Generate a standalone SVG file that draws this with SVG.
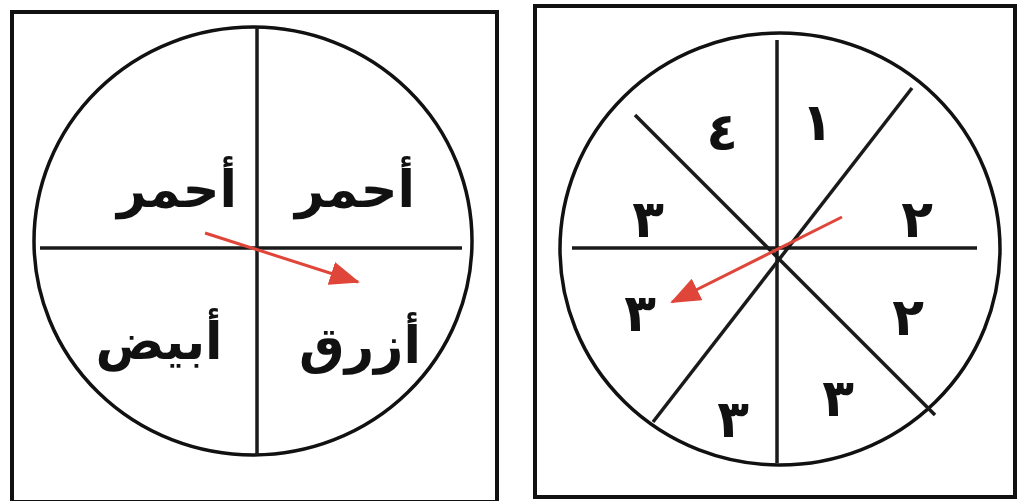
<svg xmlns="http://www.w3.org/2000/svg" width="1017" height="501" viewBox="0 0 1017 501">
<style>
.box{fill:#fff;stroke:#111;stroke-width:4}
.ln{stroke:#1a1a1a;stroke-width:3.5;fill:none}
.circ{fill:none;stroke:#111;stroke-width:3.5}
.ar{font-family:"DejaVu Sans",sans-serif;font-weight:bold;font-size:51px;fill:#111;text-anchor:middle}
.dg{font-family:"DejaVu Sans",sans-serif;font-weight:bold;font-size:52px;fill:#111;text-anchor:middle}
.arrow{stroke:#e0453a;stroke-width:3;fill:none}
</style>
<defs>
<marker id="ah" viewBox="0 0 30 24" refX="28" refY="12" markerWidth="30" markerHeight="24" markerUnits="userSpaceOnUse" orient="auto">
<path d="M0,0 L30,12 L0,24 z" fill="#e0453a"/>
</marker>
</defs>
<rect width="1017" height="501" fill="#fff"/>
<g id="left-spinner">
<rect class="box" x="12" y="12" width="485" height="490"/>
<ellipse class="circ" cx="253" cy="241" rx="219" ry="214"/>
<line class="ln" x1="257" y1="27" x2="257" y2="455"/>
<line class="ln" x1="40" y1="248" x2="462" y2="248"/>
<text class="ar" x="177" y="207" direction="rtl">أحمر</text>
<text class="ar" x="355" y="207" direction="rtl">أحمر</text>
<text class="ar" x="159" y="359" direction="rtl">أبيض</text>
<text class="ar" x="360" y="363" direction="rtl">أزرق</text>
</g>
<g id="right-spinner">
<rect class="box" x="535" y="6" width="480" height="491"/>
<ellipse class="circ" cx="780" cy="249" rx="220" ry="216"/>
<line class="ln" x1="777" y1="40" x2="777" y2="463"/>
<line class="ln" x1="572" y1="248" x2="977" y2="248"/>
<line class="ln" x1="912" y1="88" x2="653" y2="422"/>
<line class="ln" x1="635" y1="115" x2="935" y2="415"/>
<text class="dg" x="722" y="150">٤</text>
<text class="dg" x="817" y="140">١</text>
<text class="dg" x="917" y="237">٢</text>
<text class="dg" x="648" y="237">٣</text>
<text class="dg" x="640" y="331">٣</text>
<text class="dg" x="908" y="335">٢</text>
<text class="dg" x="838" y="416">٣</text>
<text class="dg" x="733" y="437">٣</text>
</g>
<g id="connectors">
<line class="arrow" x1="205" y1="233" x2="358" y2="282" marker-end="url(#ah)"/>
<line class="arrow" x1="842" y1="217" x2="672" y2="302" marker-end="url(#ah)"/>
</g>
</svg>
